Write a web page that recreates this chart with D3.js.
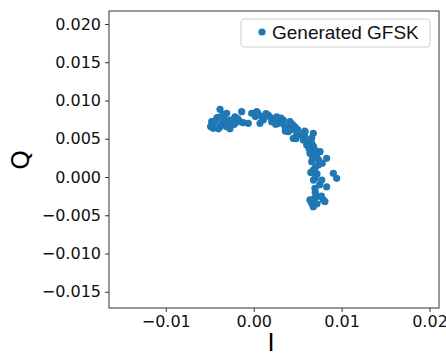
<!DOCTYPE html>
<html><head><meta charset="utf-8">
<script src="https://cdn.jsdelivr.net/npm/d3@7"></script>
<style>body{margin:0;background:#fff}</style>
</head><body>
<script>
const seriesName = "Generated GFSK";
const xTicks = [-0.01, 0.00, 0.01, 0.02];
const yTicks = [-0.015, -0.010, -0.005, 0.000, 0.005, 0.010, 0.015, 0.020];
const iValues = [
-0.00383,-0.00478,-0.0046,-0.00307,-0.0027,-0.00213,-0.00137,-0.00156,-0.00061,-0.00383,-0.00327,-0.00421,-0.0025,
-0.00023,0.00034,0.00091,0.00072,0.00166,0.00205,0.00262,0.0028,0.00337,0.00356,0.00413,0.00394,0.0047,0.00489,0.0045,
0.00584,0.00564,0.00678,0.0066,0.00603,0.00697,0.0064,0.00754,0.00717,0.0066,0.0083,0.00735,0.00678,0.00906,0.00944,
0.00697,0.00774,0.0083,0.00697,0.00717,0.0066,0.00792,0.00678,
-0.0049,-0.0044,-0.0040,-0.0036,-0.0034,-0.0031,-0.0029,-0.0025,-0.0022,-0.0018,-0.0012,-0.0035,-0.0041,-0.0047,-0.0027,
0.0002,0.0005,0.0011,0.0014,0.0019,0.0023,0.0025,0.0031,0.0033,0.0038,0.0042,0.0044,0.0050,0.0053,0.0048,0.0058,0.0061,
0.0066,0.0068,0.0063,0.0071,0.0074,0.0067,0.0078,0.0070,0.0065,0.0072,0.0068,0.0075,0.0070,0.0077,0.0064,0.0072,0.0069,
0.0081,0.0058,0.0036];
const qValues = [
0.00885,0.00723,0.00637,0.00833,0.00745,0.00788,0.00854,0.00723,0.00702,0.00657,0.00702,0.00767,0.0068,
0.00833,0.00854,0.00788,0.00702,0.0081,0.00723,0.00788,0.00702,0.00745,0.00657,0.00723,0.00592,0.00657,0.00571,0.00506,
0.00592,0.00484,0.00571,0.0044,0.00418,0.00353,0.0031,0.00331,0.00265,0.002,0.00244,0.00157,0.00092,0.00048,-0.00017,
-0.00017,-0.00039,-0.00127,-0.00148,-0.00258,-0.00344,-0.003,-0.00388,
0.0066,0.0072,0.0063,0.0070,0.0077,0.0066,0.0072,0.0074,0.0069,0.0076,0.0071,0.0082,0.0078,0.0070,0.0063,
0.0079,0.0083,0.0075,0.0083,0.0078,0.0075,0.0069,0.0077,0.0070,0.0066,0.0062,0.0069,0.0062,0.0055,0.0050,0.0053,0.0048,
0.0051,0.0040,0.0037,0.0030,0.0022,0.0025,0.0018,0.0012,0.0006,0.0004,-0.0004,-0.0010,-0.0020,-0.0025,-0.0030,-0.0035,-0.0028,
-0.0032,0.0060,0.0060];

const W = 446, H = 356;
const m = {left:109, top:11, right:439, bottom:308};
const svg = d3.select("body").append("svg").attr("width", W).attr("height", H);
const x = d3.scaleLinear().domain([-0.01646, 0.02108]).range([m.left, m.right]);
const y = d3.scaleLinear().domain([-0.01712, 0.0217]).range([m.bottom, m.top]);
const color = "#1f77b4";

const pts = iValues.map((v, k) => ({i: v, q: qValues[k]}));
svg.append("g").selectAll("circle").data(pts).join("circle")
  .attr("cx", d => x(d.i)).attr("cy", d => y(d.q)).attr("r", 3.6).attr("fill", color);

svg.append("rect").attr("x", m.left).attr("y", m.top).attr("width", m.right - m.left)
  .attr("height", m.bottom - m.top).attr("fill", "none").attr("stroke", "#333").attr("stroke-width", 1);

const xAxis = svg.append("g").attr("transform", `translate(0,${m.bottom})`)
  .call(d3.axisBottom(x).tickValues(xTicks).tickSize(4).tickPadding(4)
    .tickFormat(d => d3.format(".2f")(d).replace("-", "\u2212")));
const yAxis = svg.append("g").attr("transform", `translate(${m.left},0)`)
  .call(d3.axisLeft(y).tickValues(yTicks).tickSize(4).tickPadding(4)
    .tickFormat(d => d3.format(".3f")(d).replace("-", "\u2212")));
[xAxis, yAxis].forEach(a => {
  a.select(".domain").remove();
  a.selectAll("line").attr("stroke", "#333");
  a.selectAll("text").attr("font-family", "DejaVu Sans").attr("font-size", 16).attr("fill", "#111");
});

svg.append("text").attr("x", 271).attr("y", 351).attr("text-anchor", "middle")
  .attr("font-family", "DejaVu Sans").attr("font-size", 24).text("I");
svg.append("text").attr("transform", "translate(29,160) rotate(-90)").attr("text-anchor", "middle")
  .attr("font-family", "DejaVu Sans").attr("font-size", 25).text("Q");

const lg = svg.append("g");
lg.append("rect").attr("x", 241).attr("y", 19).attr("width", 189).attr("height", 28).attr("rx", 3)
  .attr("fill", "#fff").attr("fill-opacity", 0.8).attr("stroke", "#d0d0d0");
lg.append("circle").attr("cx", 262).attr("cy", 32).attr("r", 3.6).attr("fill", color);
lg.append("text").attr("x", 272).attr("y", 39).attr("font-family", "Liberation Sans").attr("font-size", 19)
  .attr("fill", "#111").text(seriesName);
</script>
</body></html>
